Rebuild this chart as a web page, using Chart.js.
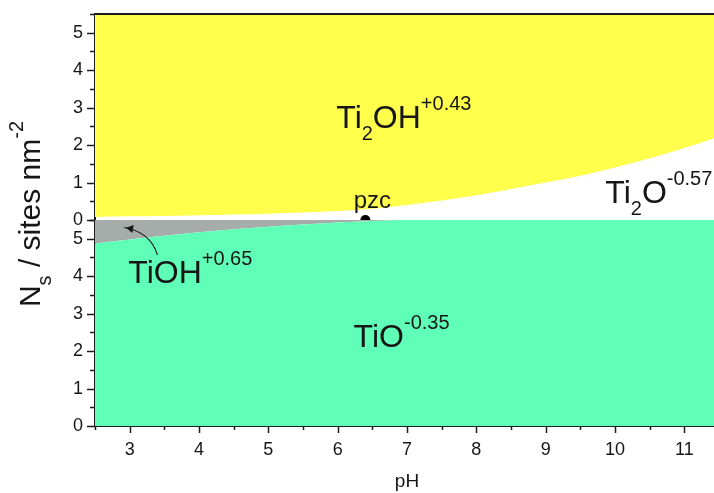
<!DOCTYPE html>
<html>
<head>
<meta charset="utf-8">
<script src="https://cdn.jsdelivr.net/npm/chart.js@4.4.1/dist/chart.umd.min.js"></script>
<style>
  html, body { margin: 0; padding: 0; background: #fff; overflow: hidden; }
  canvas { display: block; }
</style>
</head>
<body>
<canvas id="nsChart" width="724" height="493"></canvas>
<script>
// pH grid shared by both boundary curves
const phValues = [2.5, 3, 3.5, 4, 4.5, 5, 5.5, 6, 6.5, 7, 7.5, 8, 8.5, 9, 9.5, 10, 10.5, 11, 11.5];
// upper panel: Ti2OH(+0.43) above, Ti2O(-0.57) below
const ti2Boundary = [0.08, 0.10, 0.11, 0.13, 0.15, 0.17, 0.20, 0.24, 0.30, 0.40, 0.52, 0.66, 0.83, 1.00, 1.18, 1.40, 1.65, 1.92, 2.22];
// lower panel: TiO(-0.35) below, TiOH(+0.65) above
const tiBoundary = [4.87, 4.98, 5.08, 5.17, 5.25, 5.32, 5.38, 5.43, 5.47, 5.5, 5.5, 5.5, 5.5, 5.5, 5.5, 5.5, 5.5, 5.5, 5.5];
// point of zero charge
const pzcPoint = [{ x: 6.4, y: 0 }];
const yTickLabels = [0, 1, 2, 3, 4, 5];
const xTickLabels = [3, 4, 5, 6, 7, 8, 9, 10, 11];

const ink = '#161616';
const axisColor = '#1c1c1c';
const fontFamily = '"Liberation Sans", Arial, Helvetica, sans-serif';

const toPoints = ys => phValues.map((x, i) => ({ x, y: ys[i] }));

// species labels, anchored in data units (left edge, baseline)
const speciesLabels = [
  { axis: 'yTop', x: 5.98, y: 2.46, parts: [['Ti'], ['2', 'sub'], ['OH'], ['+0.43', 'sup']] },
  { axis: 'yTop', x: 9.86, y: 0.46, parts: [['Ti'], ['2', 'sub'], ['O'], ['-0.57', 'sup']] },
  { axis: 'yBot', x: 2.98, y: 3.82, parts: [['TiOH'], ['+0.65', 'sup']] },
  { axis: 'yBot', x: 6.23, y: 2.12, parts: [['TiO'], ['-0.35', 'sup']] }
];

function drawRich(ctx, x, y, parts, big, small) {
  let cx = x;
  for (const [text, kind] of parts) {
    const size = kind ? small : big;
    ctx.font = size + 'px ' + fontFamily;
    const dy = kind === 'sub' ? Math.round(big * 0.38) : kind === 'sup' ? -Math.round(big * 0.56) : 0;
    ctx.fillText(text, cx, y + dy);
    cx += ctx.measureText(text).width;
  }
}

function richWidth(ctx, parts, big, small) {
  let w = 0;
  for (const [text, kind] of parts) {
    ctx.font = (kind ? small : big) + 'px ' + fontFamily;
    w += ctx.measureText(text).width;
  }
  return w;
}

// minor/major tick marks, top frame line
const frameTicks = {
  id: 'frameTicks',
  afterDraw(chart) {
    const { ctx, chartArea } = chart;
    const line = (x1, y1, x2, y2) => { ctx.beginPath(); ctx.moveTo(x1, y1); ctx.lineTo(x2, y2); ctx.stroke(); };
    ctx.save();
    ctx.strokeStyle = axisColor;
    ctx.lineWidth = 1.5;
    const xs = chart.scales.x;
    xs.ticks.forEach(t => {
      const px = Math.round(xs.getPixelForValue(t.value)) + 0.5;
      line(px, chartArea.bottom, px, chartArea.bottom + (Number.isInteger(t.value) ? 7 : 4));
    });
    ['yBot', 'yTop'].forEach(id => {
      const s = chart.scales[id];
      s.ticks.forEach(t => {
        const py = Math.round(s.getPixelForValue(t.value)) + 0.5;
        line(chartArea.left - (Number.isInteger(t.value) ? 8 : 5), py, chartArea.left, py);
      });
    });
    ctx.lineWidth = 2;
    line(chartArea.left, chartArea.top, chartArea.right, chartArea.top);
    ctx.restore();
  }
};

// species names, pzc label, arrow and y-axis title
const annotations = {
  id: 'annotations',
  afterDatasetsDraw(chart) {
    const { ctx, scales } = chart;
    const xs = scales.x;
    ctx.save();
    ctx.fillStyle = ink;
    ctx.textBaseline = 'alphabetic';
    ctx.textAlign = 'left';
    speciesLabels.forEach(l => {
      drawRich(ctx, xs.getPixelForValue(l.x), scales[l.axis].getPixelForValue(l.y), l.parts, 32, 20);
    });

    ctx.font = '24px ' + fontFamily;
    ctx.textAlign = 'center';
    ctx.fillText('pzc', xs.getPixelForValue(6.5), scales.yTop.getPixelForValue(0.32));

    // arrow from TiOH label into the grey band
    const yb = scales.yBot;
    const sx = xs.getPixelForValue(3.40), sy = yb.getPixelForValue(4.57);
    const cx = xs.getPixelForValue(3.30), cy = yb.getPixelForValue(5.18);
    const ex = xs.getPixelForValue(2.92), ey = yb.getPixelForValue(5.30);
    ctx.strokeStyle = ink;
    ctx.lineWidth = 1.2;
    ctx.beginPath();
    ctx.moveTo(sx, sy);
    ctx.quadraticCurveTo(cx, cy, ex, ey);
    ctx.stroke();
    const ang = Math.atan2(ey - cy, ex - cx);
    ctx.beginPath();
    ctx.moveTo(ex - 2 * Math.cos(ang), ey - 2 * Math.sin(ang));
    ctx.lineTo(ex - 9 * Math.cos(ang) - 4 * Math.sin(ang), ey - 9 * Math.sin(ang) + 4 * Math.cos(ang));
    ctx.lineTo(ex - 9 * Math.cos(ang) + 4 * Math.sin(ang), ey - 9 * Math.sin(ang) - 4 * Math.cos(ang));
    ctx.closePath();
    ctx.fill();

    // rotated axis title N_s / sites nm^-2
    const titleParts = [['N'], ['s', 'sub'], [' / sites nm'], ['-2', 'sup']];
    ctx.translate(40, 214);
    ctx.rotate(-Math.PI / 2);
    ctx.textAlign = 'left';
    const w = richWidth(ctx, titleParts, 30, 20);
    drawRich(ctx, -w / 2, 0, titleParts, 30, 20);
    ctx.restore();
  }
};

const tickFont = { family: fontFamily, size: 18 };
const intLabel = v => (Number.isInteger(v) && (yTickLabels.includes(v) || xTickLabels.includes(v))) ? String(v) : '';

const yScale = {
  type: 'linear',
  position: 'left',
  stack: 'ns',
  stackWeight: 1,
  min: 0,
  max: 5.5,
  z: 1,
  grid: { drawOnChartArea: false, drawTicks: false },
  border: { color: axisColor, width: 2 },
  ticks: { stepSize: 0.5, autoSkip: false, padding: 12, color: ink, font: tickFont, callback: intLabel },
  afterFit: s => { s.width = 95; s.paddingTop = 0; s.paddingBottom = 0; }
};

new Chart(document.getElementById('nsChart'), {
  type: 'line',
  data: {
    datasets: [
      {
        label: 'Ti2OH',
        data: toPoints(ti2Boundary),
        yAxisID: 'yTop',
        fill: 'end',
        backgroundColor: '#ffff4c',
        borderWidth: 0,
        pointRadius: 0,
        cubicInterpolationMode: 'monotone'
      },
      {
        label: 'TiO',
        data: toPoints(tiBoundary),
        yAxisID: 'yBot',
        fill: 'start',
        backgroundColor: '#60ffb8',
        borderWidth: 0,
        pointRadius: 0,
        cubicInterpolationMode: 'monotone'
      },
      {
        label: 'TiOH',
        data: toPoints(tiBoundary),
        yAxisID: 'yBot',
        fill: 'end',
        backgroundColor: '#a6acaa',
        borderWidth: 0,
        pointRadius: 0,
        cubicInterpolationMode: 'monotone'
      },
      {
        type: 'scatter',
        label: 'pzc',
        data: pzcPoint,
        yAxisID: 'yTop',
        pointRadius: 5,
        backgroundColor: '#000',
        borderWidth: 0
      }
    ]
  },
  options: {
    responsive: false,
    animation: false,
    layout: { padding: { top: 14, right: 2, left: 0, bottom: 0 } },
    plugins: { legend: { display: false }, tooltip: { enabled: false } },
    scales: {
      x: {
        type: 'linear',
        min: 2.5,
        max: 11.5,
        z: 1,
        grid: { drawOnChartArea: false, drawTicks: false },
        border: { color: axisColor, width: 2 },
        ticks: { stepSize: 0.5, autoSkip: false, maxRotation: 0, padding: 13, color: ink, font: tickFont, callback: intLabel },
        title: { display: true, text: 'pH', color: ink, font: { family: fontFamily, size: 19 }, padding: { top: 0, bottom: 0 } },
        afterFit: s => { s.height = 67; s.paddingLeft = 0; s.paddingRight = 0; }
      },
      yBot: Object.assign({}, yScale),
      yTop: Object.assign({}, yScale)
    }
  },
  plugins: [frameTicks, annotations]
});
</script>
</body>
</html>
